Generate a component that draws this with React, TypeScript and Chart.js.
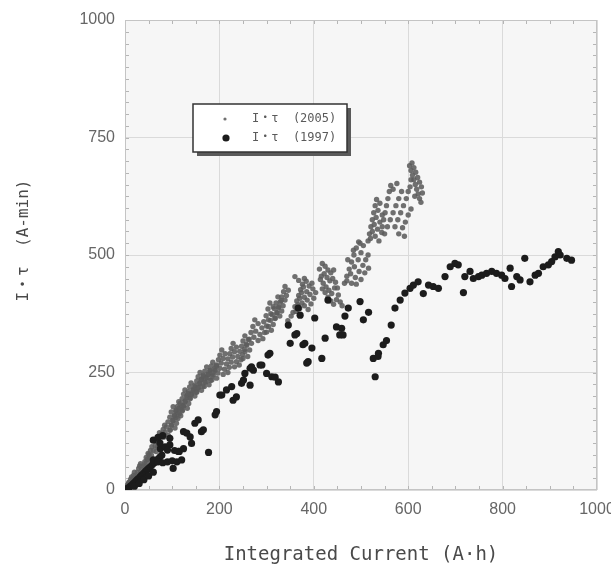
import React, { useEffect, useRef } from "react";
import { Chart, registerables } from "chart.js";

Chart.register(...registerables);

const xTickValues = [0, 200, 400, 600, 800, 1000];
const yTickValues = [0, 250, 500, 750, 1000];
const legendLabels = ["I・τ  (2005)", "I・τ  (1997)"];
const xAxisTitle = "Integrated Current (A·h)";
const yAxisTitle = "   I・τ  (A-min)";

// 2005 series: saw-tooth streaks at low current
const teeth2005: [number, number][] = [
  [2, 2], [4, 6], [5, 10], [7, 13], [8, 16],
  [6, 6], [8, 12], [10, 17], [12, 23], [14, 28],
  [12, 12], [14, 18], [16, 24], [18, 31], [20, 38],
  [20, 22], [23, 30], [26, 38], [29, 46], [31, 51], [33, 56],
  [32, 36], [35, 43], [38, 51], [42, 60], [45, 69], [49, 78],
  [42, 50], [45, 58], [48, 66], [51, 75], [54, 84], [57, 92],
  [52, 64], [56, 74], [60, 84], [64, 94], [67, 103], [70, 113], [73, 122],
  [66, 82], [69, 91], [72, 101], [75, 110], [78, 119], [81, 129], [84, 138],
  [82, 112], [85, 123], [88, 134], [91, 145], [95, 155], [98, 166], [102, 177],
  [96, 128], [99, 138], [102, 148], [105, 158], [108, 168], [111, 178], [114, 188],
  [108, 154], [111, 164], [114, 174], [117, 184], [121, 194], [124, 204], [127, 213],
  [122, 170], [125, 180], [128, 190], [131, 200], [134, 209], [137, 219], [140, 228],
  [138, 196], [141, 205], [145, 214], [148, 223], [152, 232], [155, 241], [159, 250],
  [152, 208], [155, 217], [159, 226], [162, 235], [166, 244], [169, 253], [173, 262],
  [168, 220], [171, 229], [174, 238], [177, 246], [180, 255], [183, 264], [186, 272],
  [184, 234], [187, 245], [191, 255], [194, 266], [198, 277], [201, 287], [205, 298],
  [208, 246], [211, 257], [215, 268], [218, 279], [222, 290], [225, 301], [229, 312],
  [232, 262], [236, 273], [239, 284], [243, 295], [247, 306], [250, 317], [254, 328],
  [250, 280], [254, 294], [258, 308], [263, 321], [267, 335], [271, 348], [275, 362],
  [282, 318], [286, 331], [290, 345], [294, 358], [299, 371], [303, 385], [307, 398],
  [300, 336], [304, 348], [308, 361], [312, 373], [316, 386], [320, 398], [324, 411],
  [318, 366], [322, 377], [325, 388], [329, 400], [332, 411], [336, 422], [339, 433],
];

// 2005 series: points between the streaks that thicken the band
const band2005: [number, number][] = [
  [92, 116], [95, 127], [98, 138], [101, 148], [105, 158], [108, 169],
  [106, 132], [109, 142], [112, 152], [115, 162], [118, 172], [121, 180],
  [118, 158], [121, 168], [124, 178], [127, 188], [131, 197], [134, 205],
  [132, 174], [135, 184], [138, 194], [141, 203], [144, 212], [148, 220],
  [148, 200], [151, 209], [155, 218], [158, 227], [162, 235], [166, 242],
  [162, 212], [165, 221], [169, 230], [172, 239], [176, 247], [180, 254],
  [178, 224], [181, 233], [184, 242], [187, 250], [190, 258], [194, 264],
  [194, 238], [197, 249], [201, 259], [204, 270], [208, 280], [212, 290],
  [218, 250], [221, 261], [225, 272], [228, 283], [232, 294], [236, 304],
  [242, 266], [246, 277], [249, 288], [253, 299], [257, 310], [261, 320],
  [260, 284], [264, 298], [268, 312], [273, 325], [277, 338], [282, 354],
  [292, 322], [296, 335], [300, 349], [304, 362], [309, 375], [314, 390],
  [310, 340], [314, 352], [318, 365], [322, 377], [326, 390], [331, 403],
  [328, 370], [332, 381], [335, 392], [339, 404], [342, 414], [346, 425],
];

// 2005 series: dense clusters at higher current
const clusters2005: [number, number][] = [
  [356, 378], [360, 390], [364, 402], [368, 414], [372, 426], [376, 438], [380, 450],
  [362, 380], [366, 394], [370, 408], [374, 420], [378, 432], [384, 444],
  [370, 386], [375, 398], [380, 410], [385, 422], [390, 434],
  [380, 392], [386, 404], [392, 416], [398, 428], [388, 384], [394, 396],
  [400, 408], [404, 420], [396, 440], [352, 370], [345, 360], [360, 454], [368, 446],
  [412, 470], [418, 482], [424, 476], [430, 468], [416, 455], [422, 460], [428, 452],
  [434, 445], [420, 440], [426, 432], [432, 425], [438, 418], [444, 430], [440, 450],
  [446, 442], [430, 410], [436, 402], [442, 395], [448, 405], [452, 415], [456, 400],
  [460, 392], [450, 430], [436, 462], [414, 448], [424, 420], [442, 468], [418, 428],
  [465, 440], [470, 455], [475, 470], [480, 485], [485, 500], [490, 515], [495, 528],
  [470, 445], [478, 460], [486, 475], [494, 490], [500, 505], [505, 520],
  [480, 440], [488, 452], [496, 465], [504, 478], [510, 490], [515, 500],
  [490, 438], [500, 448], [508, 462], [516, 472], [498, 525], [484, 510], [472, 490],
  [515, 530], [518, 545], [521, 560], [524, 575], [527, 590], [530, 605], [533, 618],
  [520, 535], [524, 550], [528, 565], [532, 580], [536, 595], [540, 610],
  [530, 540], [535, 555], [540, 570], [545, 585], [538, 530], [544, 548],
  [545, 560], [548, 575], [551, 590], [554, 605], [557, 620], [560, 635], [563, 648],
  [550, 545], [556, 560], [562, 575], [568, 590], [574, 605], [580, 620], [586, 635],
  [572, 560], [578, 575], [584, 590], [590, 605], [596, 620], [600, 635], [604, 645],
  [580, 545], [588, 558], [594, 570], [600, 585], [606, 598], [592, 540], [568, 640], [576, 652],
  [603, 690], [606, 680], [609, 670], [612, 660], [615, 650], [618, 640], [621, 630],
  [624, 620], [627, 612], [608, 696], [612, 686], [616, 676], [620, 665], [624, 655],
  [628, 645], [630, 632], [614, 625], [606, 660],
];

// 1997 series: low-current region
const early1997: [number, number][] = [
  [2, 1], [5, 3], [8, 5], [11, 8], [14, 10], [17, 13], [20, 16], [23, 19], [26, 22],
  [29, 25], [32, 28], [35, 31], [38, 34], [41, 37], [44, 40], [47, 43], [50, 46],
  [54, 50], [58, 54], [62, 58], [66, 62], [70, 66], [74, 70], [78, 74],
  [20, 8], [30, 14], [40, 22], [50, 30], [60, 38],
  [60, 64], [70, 60], [80, 58], [90, 60], [100, 62], [110, 60], [120, 64], [102, 46],
  [75, 88], [85, 92], [95, 96], [74, 100], [90, 85], [105, 84], [115, 82], [124, 88],
  [60, 106], [70, 112], [80, 116], [95, 110],
  [113, 82], [124, 124], [131, 121], [138, 113], [141, 99], [148, 142], [155, 149],
  [162, 124], [166, 128], [177, 80], [191, 160], [194, 167], [201, 202], [205, 202],
  [215, 213], [226, 220], [229, 191], [236, 198], [247, 227], [251, 234], [265, 223],
  [254, 248], [268, 262], [272, 255], [265, 259], [286, 266], [290, 266], [300, 248],
  [303, 287], [307, 291], [311, 241], [318, 240], [325, 230],
];

// 1997 series: higher-current region
const late1997: [number, number][] = [
  [346, 351], [350, 312], [360, 330], [364, 333], [367, 387], [371, 372], [377, 309],
  [381, 312], [385, 270], [388, 273], [396, 302], [402, 366], [417, 280], [424, 323],
  [430, 404], [448, 347], [455, 330], [459, 344], [462, 330], [466, 370], [473, 387],
  [498, 401], [505, 362], [516, 378],
  [526, 280], [530, 241], [536, 284], [537, 291], [547, 309], [554, 318], [564, 351],
  [572, 387], [583, 404], [593, 419], [604, 429], [611, 436], [621, 443], [632, 418],
  [643, 436], [653, 433], [664, 429], [678, 454], [689, 475], [699, 482], [706, 479],
  [717, 420], [720, 454], [731, 465], [738, 450], [749, 454], [756, 457], [766, 461],
  [777, 465], [787, 461], [798, 457], [805, 450], [816, 472], [819, 433], [830, 454],
  [837, 447], [847, 493], [858, 443], [869, 457], [876, 461], [886, 475], [897, 479],
  [904, 486], [911, 496], [918, 507], [922, 500], [936, 493], [946, 489],
];

const COLOR_2005 = "rgba(92,92,92,0.88)";
const COLOR_1997 = "#1c1c1c";
const MONO = "'DejaVu Sans Mono', 'Noto Sans CJK JP', monospace";
const TICK_FONT = "'Liberation Sans', Arial, sans-serif";

const toXY = (arr: [number, number][]) => arr.map(([x, y]) => ({ x, y }));

const decorPlugin = {
  id: "decor",
  beforeDraw(chart: any) {
    const { ctx, chartArea: a } = chart;
    ctx.save();
    ctx.fillStyle = "#f6f6f6";
    ctx.fillRect(a.left, a.top, a.right - a.left, a.bottom - a.top);
    ctx.restore();
  },
  beforeDatasetsDraw(chart: any) {
    const { ctx, chartArea: a, scales } = chart;
    const xs = scales.x;
    const ys = scales.y;
    ctx.save();
    ctx.strokeStyle = "#b5b5b5";
    ctx.lineWidth = 1;
    ctx.beginPath();
    for (let v = 50; v < 1000; v += 50) {
      const px = Math.round(xs.getPixelForValue(v)) + 0.5;
      ctx.moveTo(px, a.bottom);
      ctx.lineTo(px, a.bottom - 4);
      ctx.moveTo(px, a.top);
      ctx.lineTo(px, a.top + 4);
    }
    for (let v = 25; v < 1000; v += 25) {
      const py = Math.round(ys.getPixelForValue(v)) + 0.5;
      ctx.moveTo(a.left, py);
      ctx.lineTo(a.left + 4, py);
      ctx.moveTo(a.right, py);
      ctx.lineTo(a.right - 4, py);
    }
    ctx.stroke();
    ctx.strokeStyle = "#c4c4c4";
    ctx.strokeRect(a.left + 0.5, a.top + 0.5, a.right - a.left - 1, a.bottom - a.top - 1);
    ctx.restore();
  },
  afterDraw(chart: any) {
    const { ctx, chartArea: a } = chart;
    const bx = a.left + 68;
    const by = a.top + 84;
    const bw = 154;
    const bh = 48;
    ctx.save();
    ctx.fillStyle = "#5a5a5a";
    ctx.fillRect(bx + 4, by + 4, bw, bh);
    ctx.fillStyle = "#ffffff";
    ctx.fillRect(bx, by, bw, bh);
    ctx.strokeStyle = "#333333";
    ctx.lineWidth = 1.5;
    ctx.strokeRect(bx, by, bw, bh);
    ctx.fillStyle = COLOR_2005;
    ctx.beginPath();
    ctx.arc(bx + 32, by + 15, 1.6, 0, Math.PI * 2);
    ctx.fill();
    ctx.fillStyle = COLOR_1997;
    ctx.beginPath();
    ctx.arc(bx + 33, by + 34, 3.6, 0, Math.PI * 2);
    ctx.fill();
    ctx.fillStyle = "#5a5a5a";
    ctx.font = "12px " + MONO;
    ctx.textBaseline = "middle";
    ctx.textAlign = "left";
    ctx.fillText(legendLabels[0], bx + 59, by + 15);
    ctx.fillText(legendLabels[1], bx + 59, by + 34);
    ctx.restore();
  },
};

export default function App() {
  const ref = useRef<HTMLCanvasElement | null>(null);
  useEffect(() => {
    if (!ref.current) return;
    const chart = new Chart(ref.current, {
      type: "scatter",
      data: {
        datasets: [
          {
            label: legendLabels[1],
            data: [...toXY(early1997), ...toXY(late1997)],
            backgroundColor: COLOR_1997,
            borderColor: COLOR_1997,
            pointRadius: 3.6,
            pointBorderWidth: 0,
          },
          {
            label: legendLabels[0],
            data: [...toXY(teeth2005), ...toXY(band2005), ...toXY(clusters2005)],
            backgroundColor: COLOR_2005,
            borderColor: COLOR_2005,
            pointRadius: 2.7,
            pointBorderWidth: 0,
          },
        ],
      },
      plugins: [decorPlugin],
      options: {
        animation: false,
        responsive: false,
        devicePixelRatio: 1,
        layout: { padding: { top: 20, right: 14, left: 0, bottom: 0 } },
        plugins: { legend: { display: false }, tooltip: { enabled: false } },
        scales: {
          x: {
            type: "linear",
            min: 0,
            max: 1000,
            afterFit: (s: any) => {
              s.height = 76;
              s.paddingLeft = 0;
              s.paddingRight = 0;
            },
            afterBuildTicks: (s: any) => { s.ticks = xTickValues.map((v) => ({ value: v })); },
            ticks: {
              padding: 10,
              color: "#666",
              font: { family: TICK_FONT, size: 16 },
              maxRotation: 0,
              callback: (v: any) => String(v),
            },
            grid: { color: "#dadada", drawTicks: false },
            border: { display: false },
            title: {
              display: true,
              text: xAxisTitle,
              color: "#4a4a4a",
              font: { family: MONO, size: 19 },
              padding: { top: 0, bottom: 0 },
            },
          },
          y: {
            type: "linear",
            min: 0,
            max: 1000,
            afterFit: (s: any) => {
              s.width = 125;
              s.paddingTop = 0;
              s.paddingBottom = 0;
            },
            afterBuildTicks: (s: any) => { s.ticks = yTickValues.map((v) => ({ value: v })); },
            ticks: {
              padding: 10,
              color: "#666",
              font: { family: TICK_FONT, size: 16 },
              callback: (v: any) => String(v),
            },
            grid: { color: "#dadada", drawTicks: false },
            border: { display: false },
            title: {
              display: true,
              text: yAxisTitle,
              color: "#4a4a4a",
              font: { family: MONO, size: 16 },
              padding: { top: 14, bottom: 0 },
            },
          },
        },
      },
    });
    return () => chart.destroy();
  }, []);
  return (
    <div style={{ position: "absolute", left: 0, top: 0, width: 611, height: 566, background: "#fff" }}>
      <canvas ref={ref} width={611} height={566} style={{ display: "block" }} />
    </div>
  );
}
